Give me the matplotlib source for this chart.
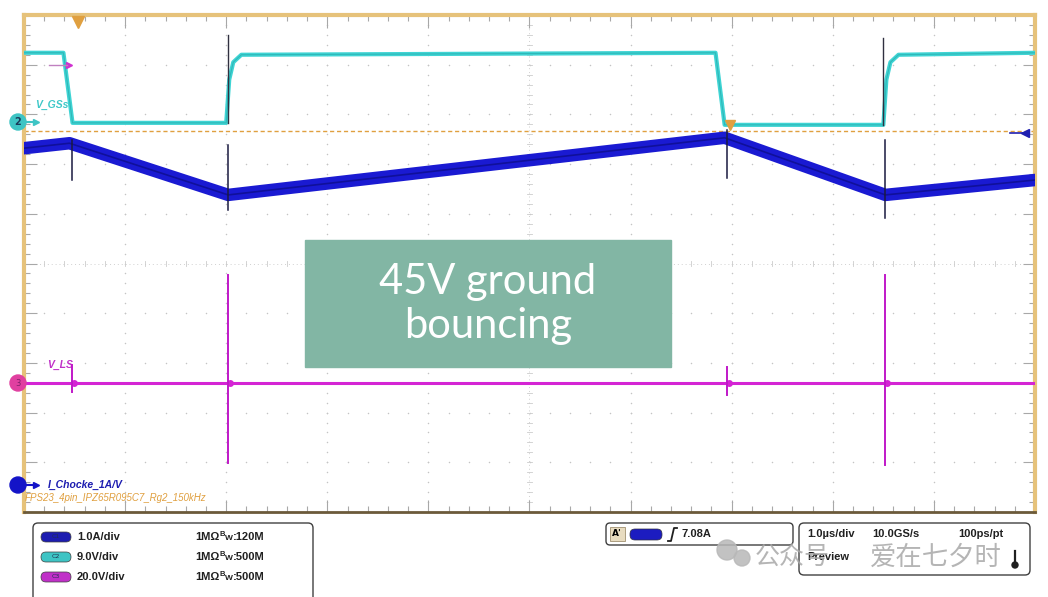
import numpy as np
import matplotlib.pyplot as plt
from matplotlib.patches import FancyBboxPatch, Rectangle, Circle

# scope screen in divisions: x = time (1 us/div), y = amplitude (div)
vgs_t = [-5.0, -4.61, -4.52, -3.00, -2.97, -2.93, -2.85, 1.84, 1.93, 3.50, 3.53, 3.57, 3.65, 5.0]
vgs_v = [4.24, 4.24, 2.83, 2.83, 3.70, 4.05, 4.20, 4.24, 2.79, 2.79, 3.70, 4.05, 4.20, 4.24]

ichoke_t = [-5.0, -4.55, -2.98, 1.93, 3.52, 5.0]
ichoke_v = [2.32, 2.42, 1.38, 2.53, 1.38, 1.68]

vls_t = [-5.0, 5.0]
vls_v = [-2.40, -2.40]

# switching events: time, spike extents for each trace
spike_t = [-4.53, -2.98, 1.95, 3.52]
ichoke_spike_top = [2.48, 2.38, 2.69, 2.48]
ichoke_spike_bot = [1.68, 1.08, 1.72, 0.92]
vls_spike_top = [-2.04, -0.23, -2.08, -0.23]
vls_spike_bot = [-2.59, -4.01, -2.65, -4.05]
vgs_spike_t = [-2.98, 3.50]
vgs_spike_top = [4.60, 4.54]
vgs_spike_bot = [2.83, 2.79]

trigger_level = 2.67

ch_names = ['C1', 'C2', 'C3']
ch_scale = ['1.0A/div', '9.0V/div', '20.0V/div']
ch_bw = ['120M', '500M', '500M']
ch_colors = ['#1c1cb0', '#3ec4c4', '#c030c8']

W, H = 1048, 597
fig = plt.figure(figsize=(W / 100, H / 100), dpi=100)
fig.patch.set_facecolor('white')

ax = fig.add_axes([24 / W, 1 - 512 / H, 1011 / W, 497 / H])
ax.set_xlim(-5, 5)
ax.set_ylim(-5, 5)
ax.set_xticks(np.arange(-5, 5.01, 1))
ax.set_yticks(np.arange(-5, 5.01, 1))
ax.set_xticks(np.arange(-5, 5.01, 0.2), minor=True)
ax.set_yticks(np.arange(-5, 5.01, 0.2), minor=True)
ax.tick_params(which='both', direction='in', top=True, right=True,
               labelbottom=False, labelleft=False, color='#a8a8a8', width=0.8)
ax.tick_params(which='major', length=9)
ax.tick_params(which='minor', length=4)
for s in ax.spines.values():
    s.set_color('#e6c27a')
    s.set_linewidth(3)
ax.spines['bottom'].set_color('#6b5a3a')
ax.spines['bottom'].set_linewidth(2)

# dotted graticule
for gx in range(-4, 5):
    if gx == 0:
        continue
    ys = np.arange(-5, 5.01, 0.2)
    ax.scatter(np.full(len(ys), gx), ys, s=1.2, color='#c4c4c4', lw=0, zorder=1)
for gy in range(-4, 5):
    if gy == 0:
        continue
    xs = np.arange(-5, 5.01, 0.2)
    ax.scatter(xs, np.full(len(xs), gy), s=1.2, color='#c4c4c4', lw=0, zorder=1)
ax.axvline(0, color='#d0d0d0', lw=0.7, ls=(0, (1, 3)), zorder=1)
ax.axhline(0, color='#d0d0d0', lw=0.7, ls=(0, (1, 3)), zorder=1)
for tx in np.arange(-5, 5.01, 0.2):
    ax.plot([tx, tx], [-0.05, 0.05], color='#cccccc', lw=0.6, zorder=1)
for ty in np.arange(-5, 5.01, 0.2):
    ax.plot([-0.025, 0.025], [ty, ty], color='#cccccc', lw=0.6, zorder=1)

# trigger level
ax.axhline(trigger_level, color='#e0a040', lw=1.0, ls=(0, (3, 2)), zorder=2)

# traces
ax.plot(vgs_t, vgs_v, color='#3fd4d4', lw=3.0, zorder=4)
ax.plot(vgs_t, vgs_v, color='#2fb8b8', lw=0.8, zorder=4)
ax.plot(ichoke_t, ichoke_v, color='#1a1ad2', lw=9, zorder=3)
ax.plot(ichoke_t, ichoke_v, color='#10109a', lw=1.2, zorder=3)
ax.plot(vls_t, vls_v, color='#d424d4', lw=2.2, zorder=3)

for t, a, b in zip(spike_t, ichoke_spike_top, ichoke_spike_bot):
    ax.plot([t, t], [a, b], color='#1a1a40', lw=1.1, zorder=5)
for t, a, b in zip(spike_t, vls_spike_top, vls_spike_bot):
    ax.plot([t, t], [a, b], color='#c018c8', lw=1.4, zorder=5)
    ax.plot([t + 0.02], vls_v[:1], marker='o', ms=5, mew=0, color='#d424d4', zorder=4)
for t, a, b in zip(vgs_spike_t, vgs_spike_top, vgs_spike_bot):
    ax.plot([t, t], [a, b], color='#303040', lw=1.0, zorder=5)

# markers on screen
ax.plot([-4.55], [3.99], marker='>', color='#d030d0', ms=5, zorder=6)
ax.plot([-4.75, -4.57], [3.99, 3.99], color='#c080c0', lw=1, zorder=6)
ax.plot([4.90], [2.63], marker='<', color='#2020b0', ms=6, zorder=6, clip_on=False)
ax.plot([4.75, 4.92], [2.63, 2.63], color='#2020b0', lw=1.2, zorder=6)
ax.plot([1.98], [2.79], marker='v', color='#e0a040', ms=7, zorder=6)
ax.plot([-4.47], [4.85], marker='v', color='#e0a040', ms=8, zorder=6, clip_on=False)

ax.text(-4.89, 3.2, 'V_GSs', color='#3ec8c8', fontsize=7.5, style='italic',
        fontweight='bold', va='center', family='Liberation Sans')
ax.text(-4.77, -2.05, 'V_LS', color='#c030c8', fontsize=7.5, style='italic',
        fontweight='bold', va='center', family='Liberation Sans')
ax.text(-4.76, -4.46, 'I_Chocke_1A/V', color='#1c1cb0', fontsize=7.5, style='italic',
        fontweight='bold', va='center', family='Liberation Sans')
ax.text(-4.99, -4.71, 'FPS23_4pin_IPZ65R095C7_Rg2_150kHz', color='#e0a040', fontsize=7,
        style='italic', va='center', family='Liberation Sans')

# overlay in pixel coordinates
ov = fig.add_axes([0, 0, 1, 1], zorder=5)
ov.set_xlim(0, W)
ov.set_ylim(H, 0)
ov.axis('off')
ov.patch.set_alpha(0)

# channel badges left of screen
ov.add_patch(Circle((18, 122), 8, color='#3ec4c4', zorder=3))
ov.text(18, 122, '2', color='#1a3a5a', fontsize=7, fontweight='bold', ha='center', va='center')
ov.plot([27, 36], [122, 122], color='#3ec4c4', lw=1.5)
ov.plot([36], [122], marker='>', color='#3ec4c4', ms=4)
ov.add_patch(Circle((18, 383), 8, color='#e040a0', zorder=3))
ov.text(18, 383, '3', color='#80206a', fontsize=6, ha='center', va='center')
ov.add_patch(Circle((18, 485), 8, color='#1414c8', zorder=3))
ov.plot([26, 36], [485, 485], color='#1414c8', lw=1.5)
ov.plot([36], [485], marker='>', color='#1414c8', ms=5)

# annotation box
ov.add_patch(Rectangle((305, 240), 366, 127, color='#82b6a4', zorder=4))
ov.text(488, 304, '45V ground\nbouncing', color='white', fontsize=30, ha='center',
        va='center', family='Lato', linespacing=1.2, zorder=5)

# channel info panel
ov.add_patch(FancyBboxPatch((33, 523), 280, 80, boxstyle='round,pad=0,rounding_size=5',
                            fc='white', ec='#404040', lw=1))
for i in range(3):
    y = 537 + 20 * i
    ov.add_patch(FancyBboxPatch((41, y - 5), 30, 10, boxstyle='round,pad=0,rounding_size=5',
                                fc=ch_colors[i], ec='#404040', lw=0.5))
    ov.text(56, y, ch_names[i], fontsize=4.5, color='#203050', ha='center', va='center')
    ov.text(77, y, ch_scale[i], fontsize=8, fontweight='bold', color='#202020',
            va='center', family='Liberation Sans')
    ov.text(195, y, '1M\u03a9', fontsize=8, fontweight='bold', color='#202020',
            va='center', family='Liberation Sans')
    ov.text(220, y - 3, 'B', fontsize=5.5, fontweight='bold', color='#202020',
            va='center', family='Liberation Sans')
    ov.text(225, y + 2, 'W', fontsize=6, fontweight='bold', color='#202020',
            va='center', family='Liberation Sans')
    ov.text(233, y, ':' + ch_bw[i], fontsize=8, fontweight='bold', color='#202020',
            va='center', family='Liberation Sans')

# trigger panel
ov.add_patch(FancyBboxPatch((606, 523), 187, 22, boxstyle='round,pad=0,rounding_size=4',
                            fc='white', ec='#404040', lw=1))
ov.add_patch(Rectangle((610, 527), 15, 14, fc='#e8dcc0', ec='#a09070', lw=0.6))
ov.text(617, 534, "A'", fontsize=6.5, fontweight='bold', ha='center', va='center')
ov.add_patch(FancyBboxPatch((630, 529), 32, 11, boxstyle='round,pad=0,rounding_size=5',
                            fc='#1c1cc0', ec='#303040', lw=0.5))
ov.plot([668, 671, 674, 677], [541, 541, 528, 528], color='#202020', lw=1.3)
ov.text(681, 534, '7.08A', fontsize=8, fontweight='bold', color='#202020',
        va='center', family='Liberation Sans')

# timebase panel
ov.add_patch(FancyBboxPatch((799, 523), 231, 52, boxstyle='round,pad=0,rounding_size=5',
                            fc='white', ec='#404040', lw=1))
ov.text(807, 534, '1.0\u00b5s/div', fontsize=8, fontweight='bold', color='#202020',
        va='center', family='Liberation Sans')
ov.text(872, 534, '10.0GS/s', fontsize=8, fontweight='bold', color='#202020',
        va='center', family='Liberation Sans')
ov.text(958, 534, '100ps/pt', fontsize=8, fontweight='bold', color='#202020',
        va='center', family='Liberation Sans')
ov.text(807, 557, 'Preview', fontsize=8, fontweight='bold', color='#202020',
        va='center', family='Liberation Sans')
ov.plot([1015, 1015], [551, 564], color='#202020', lw=1.6)
ov.add_patch(Circle((1015, 565), 3, color='#202020'))

# watermark
ov.add_patch(Circle((727, 550), 10, color='#b8b8b8', alpha=0.85))
ov.add_patch(Circle((742, 558), 8, color='#b8b8b8', alpha=0.85))
ov.text(755, 557, '\u516c\u4f17\u53f7', fontsize=18, color='#a8a8a8', alpha=0.85,
        va='center', family=['Noto Sans CJK SC', 'DejaVu Sans'])
ov.text(870, 557, '\u7231\u5728\u4e03\u5915\u65f6', fontsize=19, color='#a8a8a8', alpha=0.85,
        va='center', family=['Noto Sans CJK SC', 'DejaVu Sans'])

fig.savefig('out.png', dpi=100)
